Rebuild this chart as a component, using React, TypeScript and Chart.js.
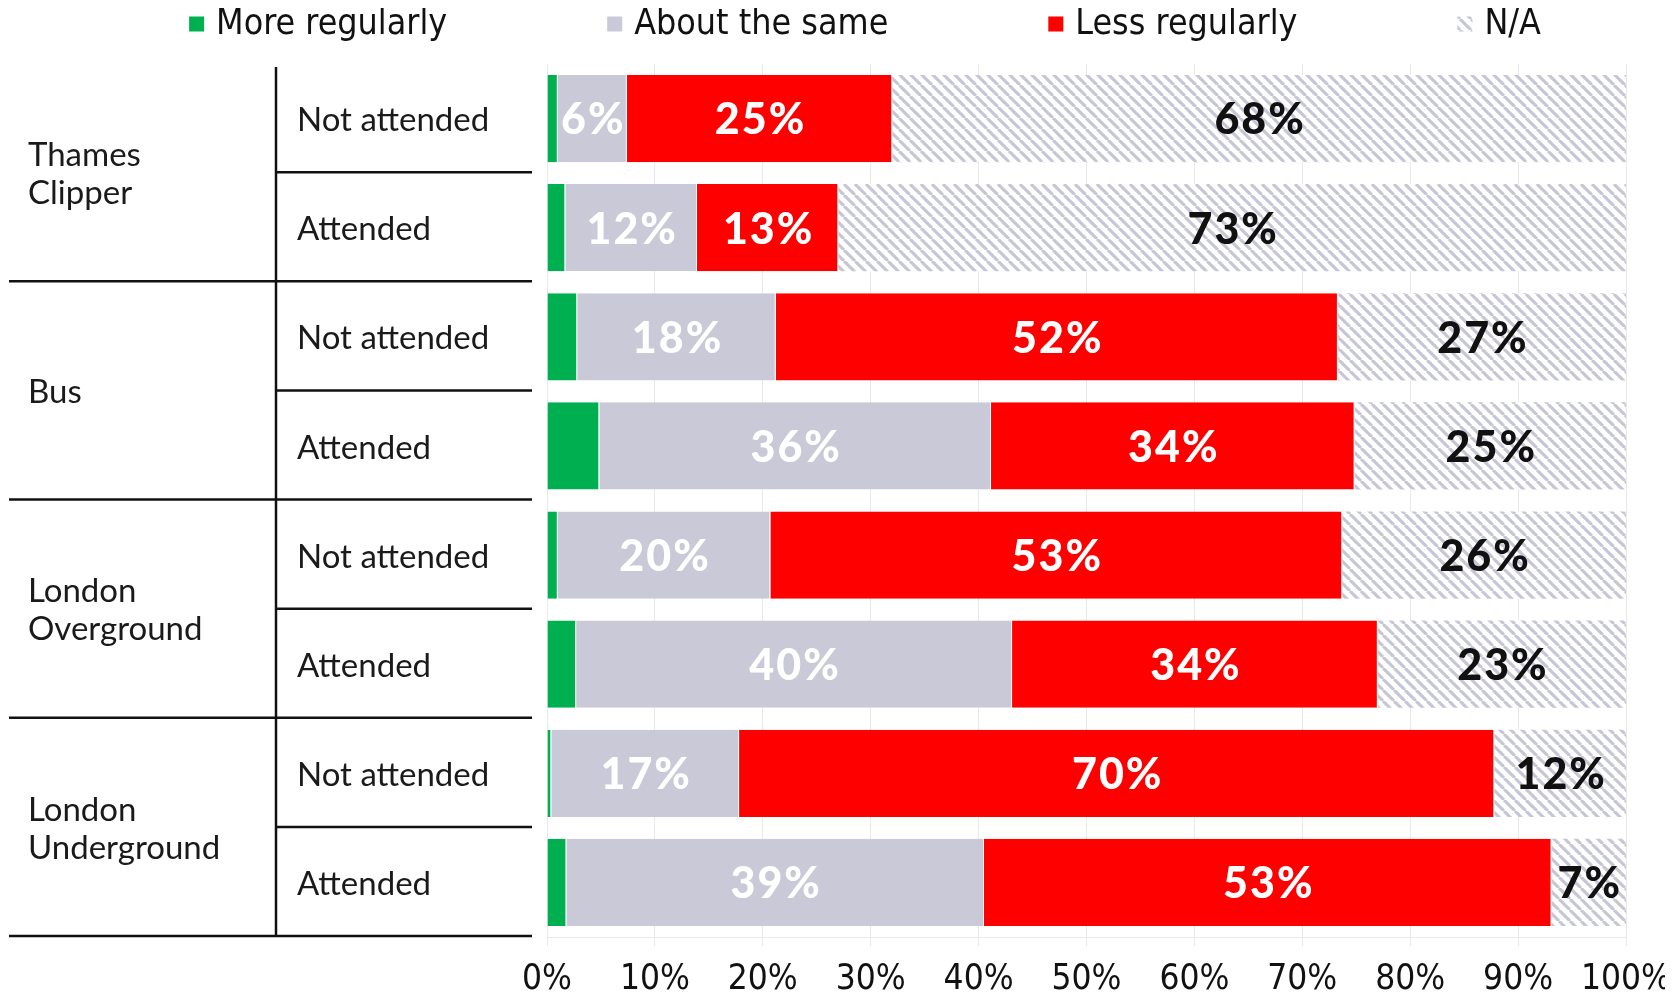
import React, { useEffect, useRef } from "react";
import { Chart, registerables } from "chart.js";
Chart.register(...registerables);

// ---------- data ----------
const categories = [
  "Thames Clipper – Not attended",
  "Thames Clipper – Attended",
  "Bus – Not attended",
  "Bus – Attended",
  "London Overground – Not attended",
  "London Overground – Attended",
  "London Underground – Not attended",
  "London Underground – Attended",
];
const groupLabels = [["Thames", "Clipper"], ["Bus"], ["London", "Overground"], ["London", "Underground"]];
const subLabels = ["Not attended", "Attended", "Not attended", "Attended", "Not attended", "Attended", "Not attended", "Attended"];
const seriesNames = ["More regularly", "About the same", "Less regularly", "N/A"];
const moreRegularly = [1.0, 1.7, 2.8, 4.85, 1.0, 2.7, 0.4, 1.8];
const aboutTheSame = [6.4, 12.2, 18.4, 36.3, 19.7, 40.4, 17.4, 38.7];
const lessRegularly = [24.6, 13.1, 52.1, 33.7, 53.0, 33.9, 70.0, 52.6];
const notApplicable = [68.0, 73.0, 26.7, 25.15, 26.3, 23.0, 12.2, 6.9];
const xTickValues = [0, 10, 20, 30, 40, 50, 60, 70, 80, 90, 100];

// ---------- styles ----------
const GREEN = "#00B050";
const GREY = "#C9C9D7";
const RED = "#FF0000";
const HATCH = "#C6C6D6";
const NARROW = "'Liberation Sans Narrow', 'DejaVu Sans Condensed', sans-serif";
const GEO = "Lato, 'Open Sans', sans-serif";
const W = 1657;
const H = 985;

function makeHatch(): CanvasPattern | string {
  const s = 11;
  const c = document.createElement("canvas");
  c.width = s;
  c.height = s;
  const g = c.getContext("2d");
  if (!g) return HATCH;
  g.fillStyle = "#ffffff";
  g.fillRect(0, 0, s, s);
  g.strokeStyle = HATCH;
  g.lineWidth = 3.1;
  for (const k of [-s, 0, s]) {
    g.beginPath();
    g.moveTo(k, 0);
    g.lineTo(k + s, s);
    g.stroke();
  }
  return g.createPattern(c, "repeat") || HATCH;
}

const legendPlugin = {
  id: "customLegend",
  afterDraw(chart: any) {
    const ctx = chart.ctx;
    ctx.save();
    ctx.font = `35.5px ${NARROW}`;
    ctx.textBaseline = "middle";
    const box = 15;
    const gapBox = 12;
    const gapItem = 160;
    const items = chart.data.datasets.map((d: any) => ({
      text: d.label,
      color: d.backgroundColor,
      w: box + gapBox + ctx.measureText(d.label).width,
    }));
    const total = items.reduce((a: number, it: any) => a + it.w, 0) + gapItem * (items.length - 1);
    let x = 857 - total / 2;
    const cy = 16;
    items.forEach((it: any) => {
      ctx.fillStyle = it.color;
      ctx.fillRect(x, cy - box / 2, box, box);
      ctx.fillStyle = "#111";
      ctx.fillText(it.text, x + box + gapBox, cy + 1);
      x += it.w + gapItem;
    });
    ctx.restore();
  },
};

const tablePlugin = {
  id: "tableLabels",
  afterDraw(chart: any) {
    const ctx = chart.ctx;
    const y = chart.scales.y;
    const area = chart.chartArea;
    const step = y.getPixelForValue(1) - y.getPixelForValue(0);
    const vx = 268;
    const lineRight = 524;
    ctx.save();
    ctx.strokeStyle = "#111";
    ctx.lineWidth = 2.5;
    ctx.beginPath();
    ctx.moveTo(vx, area.top + 3);
    ctx.lineTo(vx, y.getPixelForValue(categories.length - 1) + step / 2 - 1);
    ctx.stroke();
    categories.forEach((_, i) => {
      const b = y.getPixelForValue(i) + step / 2 - 1;
      ctx.beginPath();
      ctx.moveTo(i % 2 === 1 ? 1 : vx, b);
      ctx.lineTo(lineRight, b);
      ctx.stroke();
    });
    ctx.fillStyle = "#1a1a1a";
    ctx.textBaseline = "middle";
    ctx.font = `33px ${GEO}`;
    subLabels.forEach((t, i) => {
      ctx.fillText(t, 289, y.getPixelForValue(i) + 2);
    });
    groupLabels.forEach((lines, g) => {
      const c = (y.getPixelForValue(g * 2) + y.getPixelForValue(g * 2 + 1)) / 2;
      const lh = 38;
      lines.forEach((t, k) => {
        ctx.fillText(t, 20, c + 1 + (k - (lines.length - 1) / 2) * lh);
      });
    });
    ctx.restore();
  },
};

const valuePlugin = {
  id: "valueLabels",
  afterDatasetsDraw(chart: any) {
    const ctx = chart.ctx;
    ctx.save();
    ctx.font = `900 43px ${GEO}`;
    try {
      (ctx as any).letterSpacing = "2px";
    } catch (e) {}
    ctx.textAlign = "center";
    ctx.textBaseline = "middle";
    chart.data.datasets.forEach((ds: any, di: number) => {
      if (di === 0) return;
      const meta = chart.getDatasetMeta(di);
      meta.data.forEach((bar: any, j: number) => {
        const p = bar.getProps(["x", "y", "base"], true);
        const v = ds.data[j];
        ctx.fillStyle = di === 3 ? "#111" : "#ffffff";
        ctx.fillText(`${Math.round(v)}%`, (p.x + p.base) / 2 + 1, p.y + 2);
      });
    });
    ctx.restore();
  },
};

export default function App() {
  const ref = useRef<HTMLCanvasElement>(null);
  useEffect(() => {
    if (!ref.current) return;
    const hatch = makeHatch();
    const colors = [GREEN, GREY, RED, hatch];
    const series = [moreRegularly, aboutTheSame, lessRegularly, notApplicable];
    const chart = new Chart(ref.current, {
      type: "bar",
      data: {
        labels: categories,
        datasets: series.map((d, i) => ({
          label: seriesNames[i],
          data: d,
          backgroundColor: colors[i] as any,
          borderColor: "#ffffff",
          borderWidth: { top: 0, bottom: 0, left: 0, right: i < 3 ? 1 : 0 },
          borderSkipped: false,
          barPercentage: 0.8,
          categoryPercentage: 1,
        })),
      },
      options: {
        indexAxis: "y",
        responsive: false,
        animation: false,
        layout: { padding: { top: 56, right: 39, left: 0, bottom: 0 } },
        plugins: { legend: { display: false }, tooltip: { enabled: false } },
        scales: {
          x: {
            stacked: true,
            min: 0,
            max: 100,
            afterBuildTicks: (s: any) => {
              s.ticks = xTickValues.map((v) => ({ value: v }));
            },
            afterFit: (s: any) => {
              s.height = 56;
              s.paddingRight = 0;
              s.paddingLeft = 0;
            },
            grid: { color: "#E9E9E9", lineWidth: 1, tickLength: 9, drawTicks: true },
            border: { display: true, color: "#E9E9E9" },
            ticks: {
              color: "#111",
              padding: 13,
              font: { family: NARROW, size: 35 },
              callback: (v: any) => `${v}%`,
              maxRotation: 0,
              autoSkip: false,
            },
          },
          y: {
            stacked: true,
            grid: { display: false },
            border: { display: false },
            ticks: { display: false },
            afterFit: (s: any) => {
              s.width = 539;
            },
          },
        },
      },
      plugins: [tablePlugin, valuePlugin, legendPlugin],
    });
    return () => chart.destroy();
  }, []);
  return (
    <div style={{ width: W, height: H }}>
      <canvas ref={ref} width={W} height={H} style={{ display: "block" }} />
    </div>
  );
}
